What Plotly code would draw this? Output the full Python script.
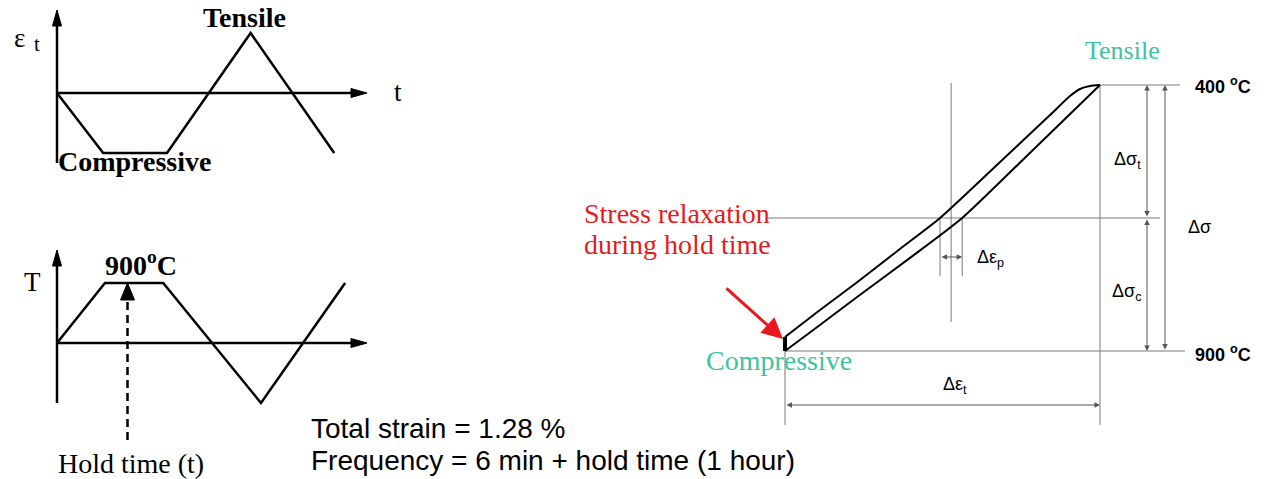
import plotly.graph_objects as go

W, H = 1271, 479

# ---- strain waveform (normalised strain vs. time in ramp units) ----
strain_time = [0.0, 1.05, 2.5, 4.4, 6.3]
strain_level = [0, -1, -1, 1, -1]

# ---- temperature waveform (normalised: +1 = 900 °C, -1 = 400 °C) ----
temp_time = [0.0, 1.02, 2.26, 4.34, 6.13]
temp_level = [0, 1, 1, -1, 1]
hold_time_mark = 1.5

# ---- hysteresis loop: mechanical strain (%) vs. normalised stress ----
total_strain = 1.28
lower_strain = [0.0, 0.142, 0.293, 0.508, 0.72, 0.995, 1.28]
lower_stress = [-1.0, -0.805, -0.594, -0.30, 0.0, 0.489, 1.0]
upper_strain = [1.28, 1.239, 1.199, 1.158, 1.077, 0.874, 0.63, 0.467, 0.305, 0.142, 0.0]
upper_stress = [1.0, 0.992, 0.97, 0.917, 0.774, 0.421, 0.0, -0.233, -0.466, -0.692, -0.895]
relaxation_stress = [-1.0, -0.895]

eps_p_left = upper_strain[upper_stress.index(0.0)]
eps_p_right = lower_strain[lower_stress.index(0.0)]
eps_mid = (eps_p_left + eps_p_right) / 2

SERIF = "Liberation Serif"
SANS = "Liberation Sans"
TEAL = "#3fc2a2"
RED = "#e8191c"
GRAY = "#7a7a7a"


class Frame:
    """Maps a panel's data units onto page pixels."""

    def __init__(self, xo, xs, yo, ys):
        self.xo, self.xs, self.yo, self.ys = xo, xs, yo, ys

    def to_px(self, x, y):
        return self.xo + x * self.xs, self.yo - y * self.ys

    def from_px(self, px, py):
        return (px - self.xo) / self.xs, (self.yo - py) / self.ys

    def xrange(self):
        return [(0 - self.xo) / self.xs, (W - self.xo) / self.xs]

    def yrange(self):
        return [(self.yo - H) / self.ys, self.yo / self.ys]


fa = Frame(57, 44, 93, 60)                    # strain vs time
fb = Frame(57, 47, 343, 60)                   # temperature vs time
fc = Frame(785, 315 / total_strain, 218, 133)  # stress vs strain

fig = go.Figure()


def line(frame_id, xs, ys, color="black", width=2.5, dash=None, smooth=False):
    style = dict(color=color, width=width, dash=dash, shape="spline" if smooth else "linear")
    if smooth:
        style["smoothing"] = 0.6
    fig.add_trace(go.Scatter(
        x=xs, y=ys, mode="lines", xaxis="x" + frame_id, yaxis="y" + frame_id,
        line=style, hoverinfo="skip", showlegend=False))


def head(frame, frame_id, x, y, dx, dy, length=16, half=4.5, color="black"):
    px, py = frame.to_px(x, y)
    n = (dx * dx + dy * dy) ** 0.5
    ux, uy = dx / n, dy / n
    bx, by = px - ux * length, py - uy * length
    pts = [(px, py), (bx - uy * half, by + ux * half), (bx + uy * half, by - ux * half), (px, py)]
    data = [frame.from_px(a, b) for a, b in pts]
    fig.add_trace(go.Scatter(
        x=[d[0] for d in data], y=[d[1] for d in data], mode="lines",
        fill="toself", fillcolor=color, line=dict(color=color, width=1),
        xaxis="x" + frame_id, yaxis="y" + frame_id,
        hoverinfo="skip", showlegend=False))


# ---- panel A: strain history ----
a_top = fa.from_px(0, 10)[1]
a_bot = fa.from_px(0, 163)[1]
a_end = fa.from_px(367, 0)[0]
line("", [0, 0], [a_bot, a_top - 0.2])
line("", [0, a_end - 0.3], [0, 0])
head(fa, "", 0, a_top, 0, -1)
head(fa, "", a_end, 0, 1, 0)
line("", strain_time, strain_level)

# ---- panel B: temperature history ----
b_top = fb.from_px(0, 250)[1]
b_end = fb.from_px(367, 0)[0]
line("2", [0, 0], [-1, b_top - 0.2])
line("2", [0, b_end - 0.3], [0, 0])
head(fb, "2", 0, b_top, 0, -1)
head(fb, "2", b_end, 0, 1, 0)
line("2", temp_time, temp_level)
b_hold_low = fb.from_px(0, 440)[1]
line("2", [hold_time_mark, hold_time_mark], [b_hold_low, 0.75], dash="8px,5px")
head(fb, "2", hold_time_mark, 1.0, 0, -1, length=17, half=7)

# ---- panel C: hysteresis loop ----
c_low = fc.from_px(0, 425)[1]
line("3", [fc.from_px(768, 0)[0], fc.from_px(1160, 0)[0]], [0, 0], GRAY, 1)
line("3", [total_strain, fc.from_px(1180, 0)[0]], [1, 1], GRAY, 1)
line("3", [0, fc.from_px(1185, 0)[0]], [-1, -1], GRAY, 1)
line("3", [0, 0], [-1, c_low], GRAY, 1)
line("3", [total_strain, total_strain], [1, c_low], GRAY, 1)
line("3", [eps_mid, eps_mid], [fc.from_px(0, 83)[1], fc.from_px(0, 322)[1]], GRAY, 1)
ext_low = fc.from_px(0, 276)[1]
line("3", [eps_p_left, eps_p_left], [0, ext_low], GRAY, 1)
line("3", [eps_p_right, eps_p_right], [0, ext_low], GRAY, 1)

line("3", lower_strain, lower_stress, "black", 2, smooth=True)
line("3", upper_strain, upper_stress, "black", 2, smooth=True)
line("3", [0, 0], relaxation_stress, "black", 4)

annotations = []


def dim_arrow(x0, y0, x1, y1):
    annotations.append(dict(
        x=x1, y=y1, ax=x0, ay=y0, xref="x3", yref="y3", axref="x3", ayref="y3",
        text="", showarrow=True, arrowside="end+start", arrowhead=2, startarrowhead=2,
        arrowsize=1.1, startarrowsize=1.1, arrowwidth=1, arrowcolor="#555555",
        standoff=0, startstandoff=0))


x_sig = fc.from_px(1147, 0)[0]
x_sig_all = fc.from_px(1165, 0)[0]
dim_arrow(x_sig, 0, x_sig, 1)
dim_arrow(x_sig, 0, x_sig, -1)
dim_arrow(x_sig_all, -1, x_sig_all, 1)
y_et = fc.from_px(0, 405)[1]
dim_arrow(0, y_et, total_strain, y_et)
y_ep = fc.from_px(0, 257)[1]
dim_arrow(eps_p_left, y_ep, eps_p_right, y_ep)

# red pointer to the relaxation segment
tail = fc.from_px(725, 287)
tip = fc.from_px(783, 339)
annotations.append(dict(
    x=tip[0], y=tip[1], ax=tail[0], ay=tail[1], xref="x3", yref="y3",
    axref="x3", ayref="y3", text="", showarrow=True, arrowhead=2,
    arrowsize=1.4, arrowwidth=3, arrowcolor=RED, standoff=0))


def label(text, px, py, size, family=SERIF, color="black", xanchor="center", bold=False):
    if bold:
        text = "<b>" + text + "</b>"
    annotations.append(dict(
        x=px / W, y=1 - py / H, xref="paper", yref="paper", text=text,
        showarrow=False, xanchor=xanchor, yanchor="middle",
        font=dict(family=family, size=size, color=color)))


# panel A labels
label("ε", 19, 38, 27)
label("t", 37, 44, 21)
label("t", 398, 92, 27)
label("Tensile", 244, 17, 28, bold=True)
label("Compressive", 56, 162, 28, xanchor="left", bold=True)

# panel B labels
label("T", 32, 282, 27)
label("900<sup>o</sup>C", 141, 263, 28, bold=True)
label("Hold time (t)", 131, 463, 28)

# test conditions
label("Total strain = 1.28 %", 309, 428, 28, family=SANS, xanchor="left")
label("Frequency = 6 min + hold time (1 hour)", 309, 460, 28, family=SANS, xanchor="left")

# panel C labels
label("Tensile", 1122, 50, 26, color=TEAL)
label("Compressive", 779, 360, 28, color=TEAL)
label("Stress relaxation", 582, 213, 28, color=RED, xanchor="left")
label("during hold time", 582, 244, 28, color=RED, xanchor="left")
label("400 <sup>o</sup>C", 1193, 85, 18, family=SANS, xanchor="left", bold=True)
label("900 <sup>o</sup>C", 1193, 353, 18, family=SANS, xanchor="left", bold=True)
label("Δσ<sub>t</sub>", 1143, 160, 18, family=SANS, xanchor="right")
label("Δσ<sub>c</sub>", 1143, 292, 18, family=SANS, xanchor="right")
label("Δσ", 1186, 227, 18, family=SANS, xanchor="left")
label("Δε<sub>t</sub>", 955, 385, 18, family=SANS)
label("Δε<sub>p</sub>", 975, 258, 18, family=SANS, xanchor="left")

axis_common = dict(visible=False, showgrid=False, zeroline=False, fixedrange=True, domain=[0, 1])
fig.update_layout(
    width=W, height=H,
    margin=dict(l=0, r=0, t=0, b=0),
    paper_bgcolor="white", plot_bgcolor="white",
    showlegend=False,
    xaxis=dict(axis_common, range=fa.xrange()),
    yaxis=dict(axis_common, range=fa.yrange()),
    xaxis2=dict(axis_common, range=fb.xrange(), overlaying="x"),
    yaxis2=dict(axis_common, range=fb.yrange(), overlaying="y"),
    xaxis3=dict(axis_common, range=fc.xrange(), overlaying="x"),
    yaxis3=dict(axis_common, range=fc.yrange(), overlaying="y"),
    annotations=annotations,
)

fig.write_html("out.html")
